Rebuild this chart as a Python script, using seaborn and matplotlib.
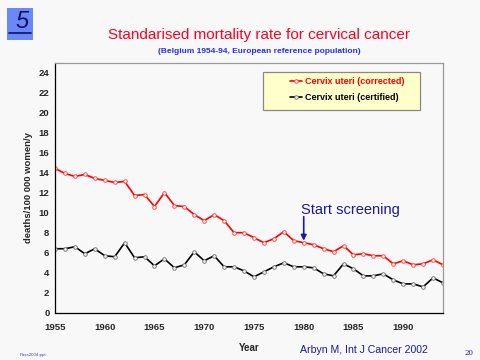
import pandas as pd
import seaborn as sns
import matplotlib.pyplot as plt
from matplotlib.patches import Rectangle
from matplotlib.lines import Line2D

# Data
years = list(range(1955, 1995))
corrected = [14.4, 13.9, 13.6, 13.8, 13.4, 13.2, 13.0, 13.1, 11.7, 11.8,
             10.6, 12.0, 10.7, 10.6, 9.8, 9.2, 9.8, 9.2, 8.0, 8.0,
             7.5, 7.0, 7.4, 8.1, 7.2, 7.0, 6.8, 6.4, 6.1, 6.7,
             5.8, 5.9, 5.7, 5.7, 4.9, 5.2, 4.8, 4.9, 5.3, 4.8]
certified = [6.4, 6.4, 6.6, 5.9, 6.4, 5.7, 5.6, 7.0, 5.5, 5.6,
             4.7, 5.4, 4.5, 4.8, 6.1, 5.2, 5.7, 4.6, 4.6, 4.2,
             3.6, 4.1, 4.6, 5.0, 4.6, 4.6, 4.5, 3.9, 3.7, 4.9,
             4.4, 3.7, 3.7, 3.9, 3.3, 2.9, 2.9, 2.6, 3.5, 3.0]
yticks = list(range(0, 25, 2))
xticks = [1955, 1960, 1965, 1970, 1975, 1980, 1985, 1990]

df = pd.DataFrame({'Year': years, 'corrected': corrected, 'certified': certified})

sns.set_style('white')
plt.rcParams['font.family'] = ['Liberation Sans', 'DejaVu Sans']

bg = '#f8f8f8'
navy = '#1a1aa0'
fig = plt.figure(figsize=(4.8, 3.6), dpi=100, facecolor=bg)
ax = fig.add_axes([55 / 480, 1 - 313 / 360, 388 / 480, 250 / 360])
ax.set_facecolor(bg)

sns.lineplot(x='Year', y='corrected', data=df, ax=ax, color='#ff0000', lw=1.2,
             marker='o', markersize=2.6, markerfacecolor='#fff0f0',
             markeredgecolor='#ff4040', markeredgewidth=0.6,
             label='Cervix uteri (corrected)')
sns.lineplot(x='Year', y='certified', data=df, ax=ax, color='black', lw=1.2,
             marker='o', markersize=2.6, markerfacecolor='#f0f0f0',
             markeredgecolor='#707070', markeredgewidth=0.6,
             label='Cervix uteri (certified)')

ax.set_xlim(1955, 1994)
ax.set_ylim(0, 24.9)
ax.set_xticks(xticks)
ax.set_yticks(yticks)
ax.tick_params(axis='both', labelsize=6.8, length=3, width=0.8, direction='out')
ax.tick_params(axis='y', pad=1)
ax.tick_params(axis='x', pad=4)
for lbl in ax.get_xticklabels() + ax.get_yticklabels():
    lbl.set_fontweight('bold')
ax.set_xlabel('Year', fontsize=7, fontweight='bold')
ax.xaxis.set_label_coords(0.5, -0.12)
ax.set_ylabel('deaths/100 000 women/y', fontsize=6.8, fontweight='bold', labelpad=4)
for s in ['left', 'bottom']:
    ax.spines[s].set_color('black')
    ax.spines[s].set_linewidth(0.9)
for s in ['top', 'right']:
    ax.spines[s].set_color('#999999')
    ax.spines[s].set_linewidth(0.9)

# legend box drawn behind a frameless legend
ax.add_patch(Rectangle((0.536, 0.812), 0.405, 0.152, transform=ax.transAxes,
                       facecolor='#ffffcc', edgecolor='#888888', lw=0.9, zorder=4))
leg = ax.legend(loc='upper left', bbox_to_anchor=(0.606, 0.945), frameon=False,
                handlelength=1.3, handletextpad=0.35, borderpad=0,
                labelspacing=0.85, borderaxespad=0,
                prop={'weight': 'bold', 'size': 6.5})
leg.set_zorder(5)
leg.texts[0].set_color('#ff0000')
leg.texts[1].set_color('black')

# Start screening annotation
ax.text(1979.7, 9.6, 'Start screening', fontsize=10.5, color=navy,
        ha='left', va='bottom')
ax.annotate('', xy=(1980, 7.2), xytext=(1980, 9.6),
            arrowprops=dict(arrowstyle='-|>', color=navy, lw=1.2,
                            mutation_scale=8, shrinkA=0, shrinkB=0))

fig.text(0.54, 0.902, 'Standarised mortality rate for cervical cancer',
         color='#ff0020', fontsize=11, ha='center', va='center')
fig.text(0.54, 0.856, '(Belgium 1954-94, European reference population)',
         color='#2030ff', fontsize=6, fontweight='bold', ha='center', va='center')
fig.text(0.625, 0.028, 'Arbyn M, Int J Cancer 2002', color=navy,
         fontsize=7.6, ha='left', va='center')
fig.text(0.04, 0.015, 'Pass2004.ppt', color='#3040ff', fontsize=3.2,
         ha='left', va='center')
fig.text(0.978, 0.02, '20', color=navy, fontsize=5, family='DejaVu Serif',
         ha='center', va='center')

# logo
fig.add_artist(Rectangle((7 / 480, 1 - 40 / 360), 26 / 480, 32 / 360,
                         transform=fig.transFigure, facecolor='#6a88f8',
                         edgecolor='none'))
fig.text(22 / 480, 1 - 22 / 360, '5', color='#101060', fontsize=17,
         style='italic', ha='center', va='center')
fig.add_artist(Line2D([9 / 480, 31 / 480], [1 - 33 / 360, 1 - 33 / 360],
                      transform=fig.transFigure, color='#101060', lw=1.2))

fig.savefig('out.png', dpi=100, facecolor=bg)
